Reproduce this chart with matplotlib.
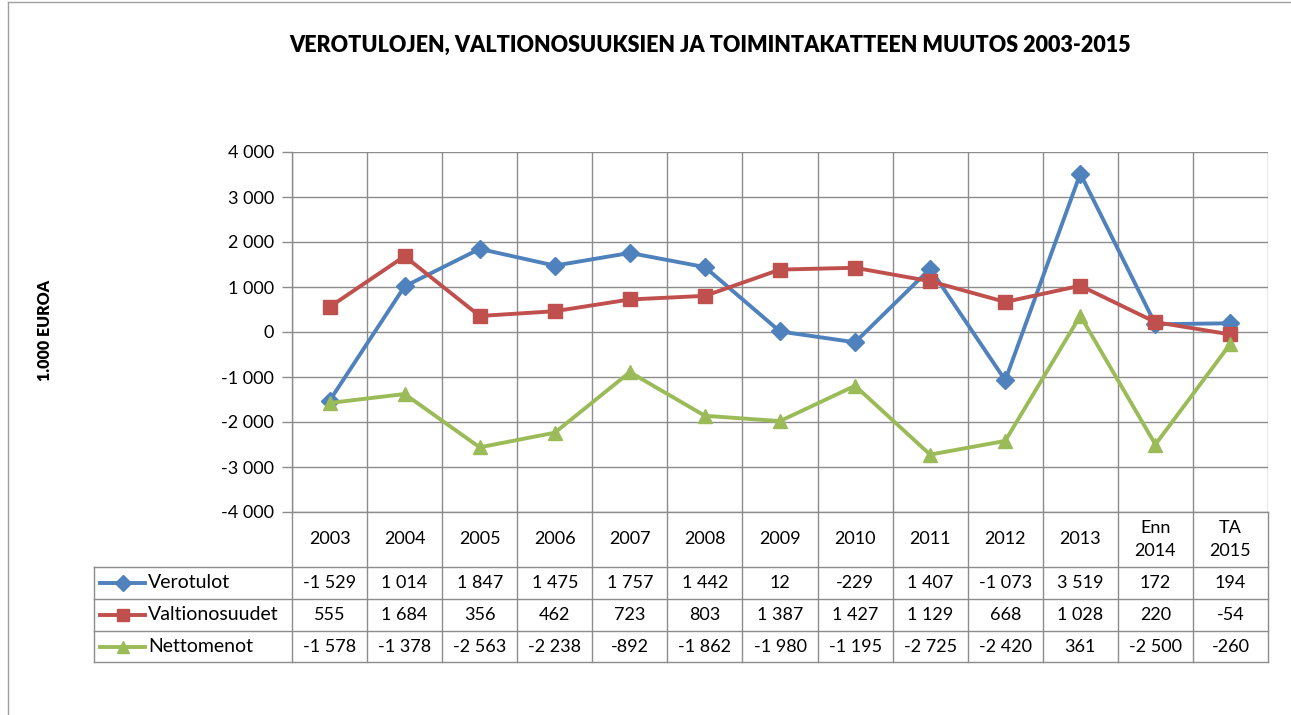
import numpy as np
import matplotlib
matplotlib.use("Agg")
import matplotlib.pyplot as plt
from matplotlib.lines import Line2D
from matplotlib.transforms import blended_transform_factory

plt.rcParams['font.family'] = ['Lato', 'DejaVu Sans']

# Data
kategoriat = ['2003', '2004', '2005', '2006', '2007', '2008', '2009', '2010',
              '2011', '2012', '2013', 'Enn\n2014', 'TA\n2015']
verotulot = [-1529, 1014, 1847, 1475, 1757, 1442, 12, -229, 1407, -1073, 3519, 172, 194]
valtionosuudet = [555, 1684, 356, 462, 723, 803, 1387, 1427, 1129, 668, 1028, 220, -54]
nettomenot = [-1578, -1378, -2563, -2238, -892, -1862, -1980, -1195, -2725, -2420, 361, -2500, -260]

sarjat = [
    ('Verotulot', verotulot, '#4F81BD', 'D', 9),
    ('Valtionosuudet', valtionosuudet, '#C0504D', 's', 10),
    ('Nettomenot', nettomenot, '#9BBB59', '^', 10),
]

W, H = 1291, 715
fig = plt.figure(figsize=(W / 100, H / 100), dpi=100)
grid_col = '#8C8C8C'

# plot area in pixels
px_left, px_right, px_top, px_bottom = 292, 1268, 152, 512
ax = fig.add_axes([px_left / W, 1 - px_bottom / H,
                   (px_right - px_left) / W, (px_bottom - px_top) / H])

x = np.arange(len(kategoriat))
for nimi, arvot, vari, merkki, koko in sarjat:
    ax.plot(x, arvot, color=vari, lw=2.8, marker=merkki, markersize=koko,
            markeredgecolor=vari, zorder=3)

ax.set_xlim(-0.5, len(kategoriat) - 0.5)
ax.set_ylim(-4000, 4000)
ax.set_yticks(np.arange(-4000, 4001, 1000))
ax.set_yticklabels([f'{v:,}'.replace(',', ' ') for v in range(-4000, 4001, 1000)],
                   fontsize=13)
ax.set_xticks([])
ax.set_xticks(np.arange(-0.5, len(kategoriat)), minor=True)
ax.grid(True, axis='y', color=grid_col, lw=1)
ax.grid(True, axis='x', which='minor', color=grid_col, lw=1)
ax.tick_params(axis='y', length=7, color=grid_col, width=1, pad=6)
ax.tick_params(axis='x', which='minor', length=0)
for s in ax.spines.values():
    s.set_color(grid_col)
    s.set_linewidth(1)
ax.spines['top'].set_visible(False)
ax.spines['right'].set_visible(False)

# Data table under the plot
tr = blended_transform_factory(ax.transData, fig.transFigure)
fy = lambda py: 1 - py / H
rivit = [512, 567, 599, 631, 662]
taulu_vasen = 94

for i in range(len(kategoriat) + 1):
    fig.add_artist(Line2D([i - 0.5, i - 0.5], [fy(rivit[0]), fy(rivit[-1])],
                          transform=tr, color=grid_col, lw=1))
for r in rivit[1:]:
    fig.add_artist(Line2D([taulu_vasen / W, px_right / W], [fy(r), fy(r)],
                          transform=fig.transFigure, color=grid_col, lw=1))
fig.add_artist(Line2D([taulu_vasen / W, taulu_vasen / W], [fy(rivit[1]), fy(rivit[-1])],
                      transform=fig.transFigure, color=grid_col, lw=1))

for i, k in enumerate(kategoriat):
    fig.text(i, fy((rivit[0] + rivit[1]) / 2), k, transform=tr, ha='center',
             va='center', fontsize=13, linespacing=1.55)

for j, (nimi, arvot, vari, merkki, koko) in enumerate(sarjat):
    yc = fy((rivit[j + 1] + rivit[j + 2]) / 2)
    for i, v in enumerate(arvot):
        fig.text(i, yc, f'{v:,}'.replace(',', ' '), transform=tr, ha='center',
                 va='center', fontsize=13)
    fig.add_artist(Line2D([100 / W, 145 / W], [yc, yc], transform=fig.transFigure,
                          color=vari, lw=2.8))
    fig.add_artist(Line2D([122.5 / W], [yc], transform=fig.transFigure, color=vari,
                          marker=merkki, markersize=koko - 1, markeredgecolor=vari))
    fig.text(148 / W, yc, nimi, ha='left', va='center', fontsize=14)

fig.text(710 / W, fy(45), 'VEROTULOJEN, VALTIONOSUUKSIEN JA TOIMINTAKATTEEN MUUTOS 2003-2015',
         ha='center', va='center', fontsize=15.5, fontweight='heavy')
fig.text(45 / W, fy(330), '1.000 EUROA', ha='center', va='center', rotation=90,
         fontsize=11.5, fontweight='heavy')

# chart frame
fig.add_artist(Line2D([8 / W, 8 / W], [0, fy(2)], transform=fig.transFigure,
                      color='#A0A0A0', lw=1))
fig.add_artist(Line2D([8 / W, 1], [fy(2), fy(2)], transform=fig.transFigure,
                      color='#A0A0A0', lw=1))

fig.savefig('out.png', dpi=100)
